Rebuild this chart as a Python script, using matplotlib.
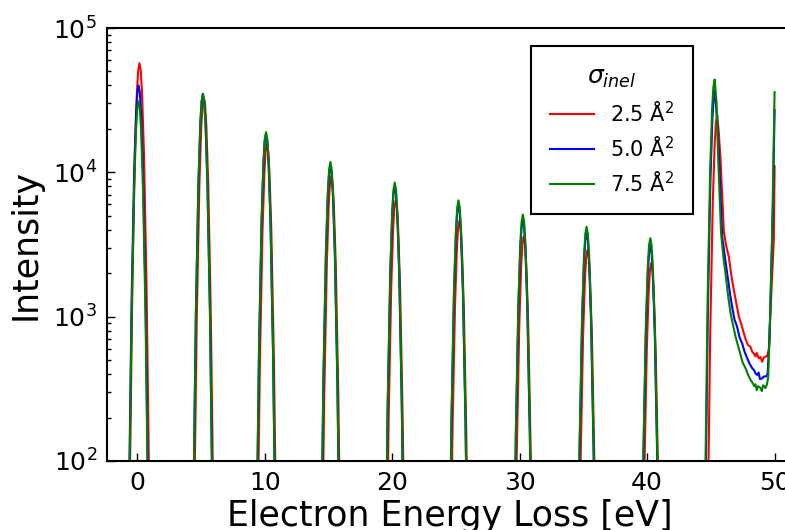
import matplotlib
matplotlib.use("Agg")
import matplotlib.pyplot as plt
import numpy as np

# energy offsets (eV) sampled around each plasmon-loss peak centre
offsets = [-0.8, -0.55, -0.35, -0.2, -0.1, 0.0, 0.1, 0.2, 0.35, 0.55, 0.8]

# peak centres for the 0..40 eV losses
centres_red = [0.17, 5.22, 10.17, 15.22, 20.27, 25.27, 30.32, 35.32, 40.32]
centres_blue = [0.1, 5.15, 10.1, 15.15, 20.2, 25.2, 30.25, 35.25, 40.25]
centres_green = [0.1, 5.15, 10.1, 15.15, 20.2, 25.2, 30.25, 35.25, 40.25]

# intensities at each offset, one row per peak
peaks_red = [
    [36, 1770, 14000, 35900, 50700, 57000, 50700, 35900, 14000, 1770, 36],
    [21, 1020, 8100, 20800, 29400, 33000, 29400, 20800, 8100, 1020, 21],
    [10, 490, 3850, 9900, 14000, 15700, 14000, 9900, 3850, 490, 10],
    [6, 295, 2330, 6000, 8450, 9500, 8450, 6000, 2330, 295, 6],
    [4, 198, 1570, 4030, 5700, 6400, 5700, 4030, 1570, 198, 4],
    [3, 143, 1130, 2900, 4090, 4600, 4090, 2900, 1130, 143, 3],
    [2, 112, 880, 2270, 3200, 3600, 3200, 2270, 880, 112, 2],
    [2, 90, 710, 1830, 2580, 2900, 2580, 1830, 710, 90, 2],
    [1, 73, 576, 1480, 2090, 2350, 2090, 1480, 576, 73, 1],
]
peaks_blue = [
    [25, 1240, 9800, 25200, 35600, 40000, 35600, 25200, 9800, 1240, 25],
    [22, 1090, 8600, 22100, 31200, 35000, 31200, 22100, 8600, 1090, 22],
    [12, 570, 4530, 11700, 16500, 18500, 16500, 11700, 4530, 570, 12],
    [7, 340, 2700, 6900, 9800, 11000, 9800, 6900, 2700, 340, 7],
    [5, 250, 1960, 5040, 7100, 8000, 7100, 5040, 1960, 250, 5],
    [4, 183, 1450, 3720, 5250, 5900, 5250, 3720, 1450, 183, 4],
    [3, 146, 1150, 2960, 4180, 4700, 4180, 2960, 1150, 146, 3],
    [2, 118, 930, 2390, 3380, 3800, 3380, 2390, 930, 118, 2],
    [2, 96, 760, 1950, 2760, 3100, 2760, 1950, 760, 96, 2],
]
peaks_green = [
    [20, 960, 7600, 19500, 27600, 31000, 27600, 19500, 7600, 960, 20],
    [22, 1090, 8600, 22100, 31200, 35000, 31200, 22100, 8600, 1090, 22],
    [12, 590, 4650, 12000, 16900, 19000, 16900, 12000, 4650, 590, 12],
    [7, 365, 2890, 7400, 10500, 11800, 10500, 7400, 2890, 365, 7],
    [5, 263, 2080, 5360, 7570, 8500, 7570, 5360, 2080, 263, 5],
    [4, 198, 1570, 4030, 5700, 6400, 5700, 4030, 1570, 198, 4],
    [3, 158, 1250, 3210, 4540, 5100, 4540, 3210, 1250, 158, 3],
    [3, 130, 1030, 2650, 3740, 4200, 3740, 2650, 1030, 130, 3],
    [2, 108, 860, 2200, 3120, 3500, 3120, 2200, 860, 108, 2],
]

# 45 eV peak, its tail and the start of the 50 eV peak
tail_e_red = [44.7, 44.95, 45.15, 45.3, 45.4, 45.5, 45.62, 45.76, 46.02, 46.2, 46.41,
              46.6, 46.8, 47.0, 47.2, 47.4, 47.59, 47.75, 47.93, 48.1, 48.25, 48.37,
              48.5, 48.6, 48.76, 48.9, 49.02, 49.15, 49.3, 49.41, 49.55, 49.75, 49.94, 50.0]
tail_i_red = [16, 770, 6100, 15800, 22300, 25000, 19000, 12200, 3900, 3100, 2600,
              1950, 1530, 1240, 1000, 880, 765, 690, 635, 620, 570, 557,
              530, 560, 514, 525, 487, 520, 530, 533, 590, 1500, 3400, 11000]

tail_e_blue = [44.52, 44.77, 44.97, 45.12, 45.22, 45.32, 45.5, 45.65, 45.89, 46.1, 46.28,
               46.5, 46.67, 46.85, 47.06, 47.25, 47.46, 47.65, 47.85, 48.05, 48.24, 48.4,
               48.5, 48.63, 48.75, 48.85, 49.02, 49.15, 49.33, 49.45, 49.6, 49.75, 49.88, 50.0]
tail_i_blue = [23, 1150, 9100, 23300, 33000, 37000, 22000, 12000, 3600, 2600, 2000,
               1450, 1170, 960, 850, 720, 650, 570, 515, 470, 440, 425,
               405, 395, 410, 370, 373, 385, 385, 400, 700, 2200, 6500, 27000]

tail_e_green = [44.5, 44.75, 44.95, 45.1, 45.2, 45.3, 45.45, 45.58, 45.8, 46.0, 46.15,
                46.35, 46.55, 46.75, 46.94, 47.15, 47.33, 47.5, 47.72, 47.9, 48.11, 48.3,
                48.4, 48.5, 48.6, 48.7, 48.9, 49.0, 49.1, 49.29, 49.4, 49.5, 49.65, 49.8, 50.0]
tail_i_green = [28, 1360, 10800, 27700, 39200, 44000, 30000, 12200, 3800, 2500, 2000,
                1400, 1050, 870, 725, 620, 540, 480, 440, 400, 365, 345,
                330, 340, 310, 330, 320, 305, 335, 320, 340, 380, 1000, 3400, 36000]

labels = [r"2.5 $\mathrm{\AA}^2$", r"5.0 $\mathrm{\AA}^2$", r"7.5 $\mathrm{\AA}^2$"]
colors = ["red", "blue", "green"]


def build_spectrum(centres, peaks, tail_e, tail_i):
    energy = []
    intensity = []
    for c, row in zip(centres, peaks):
        energy += [c + o for o in offsets]
        intensity += row
    energy += tail_e
    intensity += tail_i
    return np.array(energy), np.array(intensity, dtype=float)


spectra = [
    build_spectrum(centres_red, peaks_red, tail_e_red, tail_i_red),
    build_spectrum(centres_blue, peaks_blue, tail_e_blue, tail_i_blue),
    build_spectrum(centres_green, peaks_green, tail_e_green, tail_i_green),
]

fig = plt.figure(figsize=(7.85, 5.30), dpi=100)
# axes run past the right edge of the canvas
ax = fig.add_axes([106.7 / 785, 69 / 530, 687 / 785, 433 / 530])

for (e, i), lab, col in zip(spectra, labels, colors):
    ax.plot(e, i, color=col, lw=1.5, label=lab)

ax.set_yscale("log")
ax.set_ylim(1e2, 1e5)
ax.set_xlim(-2.4, 51.5)
ax.set_xticks([0, 10, 20, 30, 40, 50])

for side in ["top", "right", "left", "bottom"]:
    ax.spines[side].set_linewidth(1.5)
ax.tick_params(which="both", direction="in", top=False, right=False, labelsize=18, pad=7)
ax.tick_params(which="major", length=6, width=1)
ax.tick_params(which="minor", length=3, width=1)

ax.set_xlabel("Electron Energy Loss [eV]", fontsize=25, labelpad=3)
ax.set_ylabel("Intensity", fontsize=25, labelpad=7)

leg = ax.legend(title=r"$\sigma_{inel}$", fontsize=15, title_fontsize=18,
                loc="upper left", bbox_to_anchor=(531 / 785, 1 - 46 / 530),
                bbox_transform=fig.transFigure, borderaxespad=0,
                fancybox=False, framealpha=1, edgecolor="black",
                handlelength=2.1, borderpad=0.9, labelspacing=0.5)
leg.get_frame().set_linewidth(1.5)

fig.savefig("out.png", dpi=100)
